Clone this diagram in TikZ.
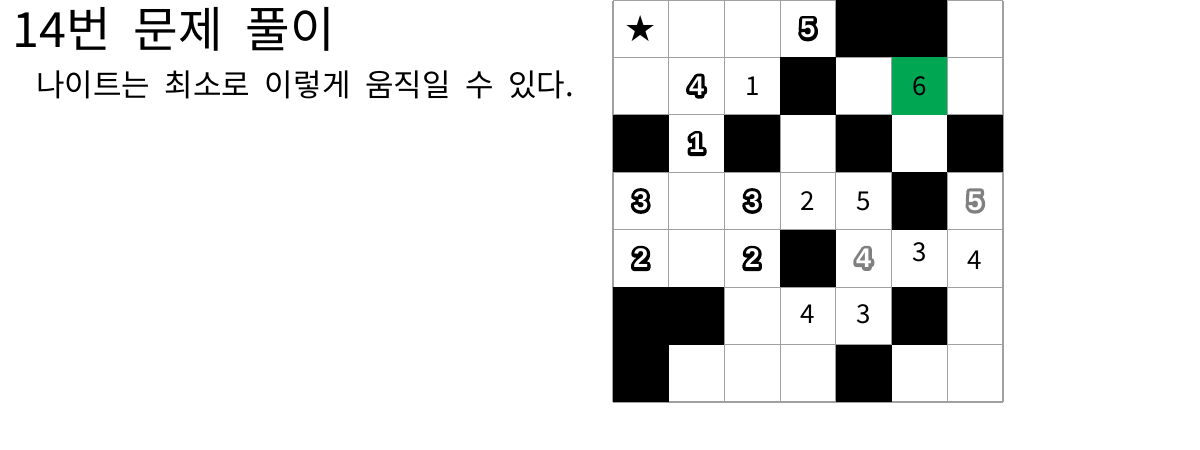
\documentclass[tikz,border=0pt]{standalone}
\usepackage{fontspec}
\setmainfont{Noto Sans CJK KR}
\newfontfamily\titlefont[WordSpace=1.7]{Noto Sans CJK KR}
\newfontfamily\subfont[WordSpace=2.1]{Noto Sans CJK KR}
\newfontfamily\symfont{DejaVu Sans}
\newfontfamily\boldnum{Liberation Sans Bold}
\newfontfamily\boldnumfat[FakeBold=24]{Liberation Sans Bold}
\definecolor{cellgreen}{RGB}{0,166,81}
\definecolor{gridgray}{RGB}{160,160,160}
\definecolor{outgray}{RGB}{128,128,128}
\tikzset{
  plainnum/.style={inner sep=0pt,font=\fontsize{26}{26}\selectfont},
  onum/.style={inner sep=0pt,font=\boldnum\fontsize{27}{27}\selectfont},
  onumfat/.style={inner sep=0pt,line join=round,line cap=round,font=\boldnumfat\fontsize{27}{27}\selectfont},
  blackcell/.style={fill=black},
  gridline/.style={draw=gridgray,line width=1.2pt},
}
\newcommand{\cx}[1]{613+(#1+0.5)*55.714}
\newcommand{\cy}[1]{(#1+0.5)*57.43}
\newcommand{\outnum}[5]{% name, row, col, color, text
  \begin{scope}[line join=round]
  \node[onumfat,text=#4] (#1o) at ({\cx{#3}},{\cy{#2}}) {#5};
  \end{scope}
  \node[onum,text=white] (#1) at ({\cx{#3}},{\cy{#2}}) {#5};}
\begin{document}
\begin{tikzpicture}[x=1pt,y=-1pt]
\useasboundingbox[fill=white] (0,0) rectangle (1200,450);
% title texts
\node[anchor=base west,inner sep=0pt,font=\titlefont\fontsize{48.5}{52}\selectfont] (title) at (12,47) {14번 문제 풀이};
\node[anchor=base west,inner sep=0pt,font=\subfont\fontsize{31}{34}\selectfont] (subtitle) at (36,96) {나이트는 최소로 이렇게 움직일 수 있다.};
% grid
\foreach \i in {0,...,7}{
  \draw[gridline] ({613+\i*55.714},0.6) -- ({613+\i*55.714},402);
  \draw[gridline] (613,{max(0.6,\i*57.43)}) -- (1003.3,{max(0.6,\i*57.43)});
}
% black cells
\foreach \r/\c in {0/4,0/5,1/3,2/0,2/2,2/4,2/6,3/5,4/3,5/0,5/1,5/5,6/0,6/4}{
  \fill[blackcell] ({613+\c*55.714},{\r*57.43}) rectangle +(55.714,57.43);
}
% green cell
\fill[cellgreen] ({613+5*55.714},{1*57.43}) rectangle +(55.714,57.43);
% star
\node[inner sep=0pt,font=\symfont\fontsize{36}{36}\selectfont] (star) at ({\cx{0}},{\cy{0}}) {★};
% plain numbers
\node[plainnum] (n12) at ({\cx{2}},{\cy{1}}) {1};
\node[plainnum] (n15) at ({\cx{5}},{\cy{1}}) {6};
\node[plainnum] (n33) at ({\cx{3}},{\cy{3}}) {2};
\node[plainnum] (n34) at ({\cx{4}},{\cy{3}}) {5};
\node[plainnum] (n45) at ({\cx{5}},{\cy{4}-6}) {3};
\node[plainnum] (n46) at ({\cx{6}},{\cy{4}+2}) {4};
\node[plainnum] (n53) at ({\cx{3}},{\cy{5}-2}) {4};
\node[plainnum] (n54) at ({\cx{4}},{\cy{5}-2}) {3};
% outlined numbers
\outnum{o03}{0}{3}{black}{5}
\outnum{o11}{1}{1}{black}{4}
\outnum{o21}{2}{1}{black}{1}
\outnum{o30}{3}{0}{black}{3}
\outnum{o32}{3}{2}{black}{3}
\outnum{o40}{4}{0}{black}{2}
\outnum{o42}{4}{2}{black}{2}
\outnum{o36}{3}{6}{outgray}{5}
\outnum{o44}{4}{4}{outgray}{4}
\end{tikzpicture}
\end{document}
